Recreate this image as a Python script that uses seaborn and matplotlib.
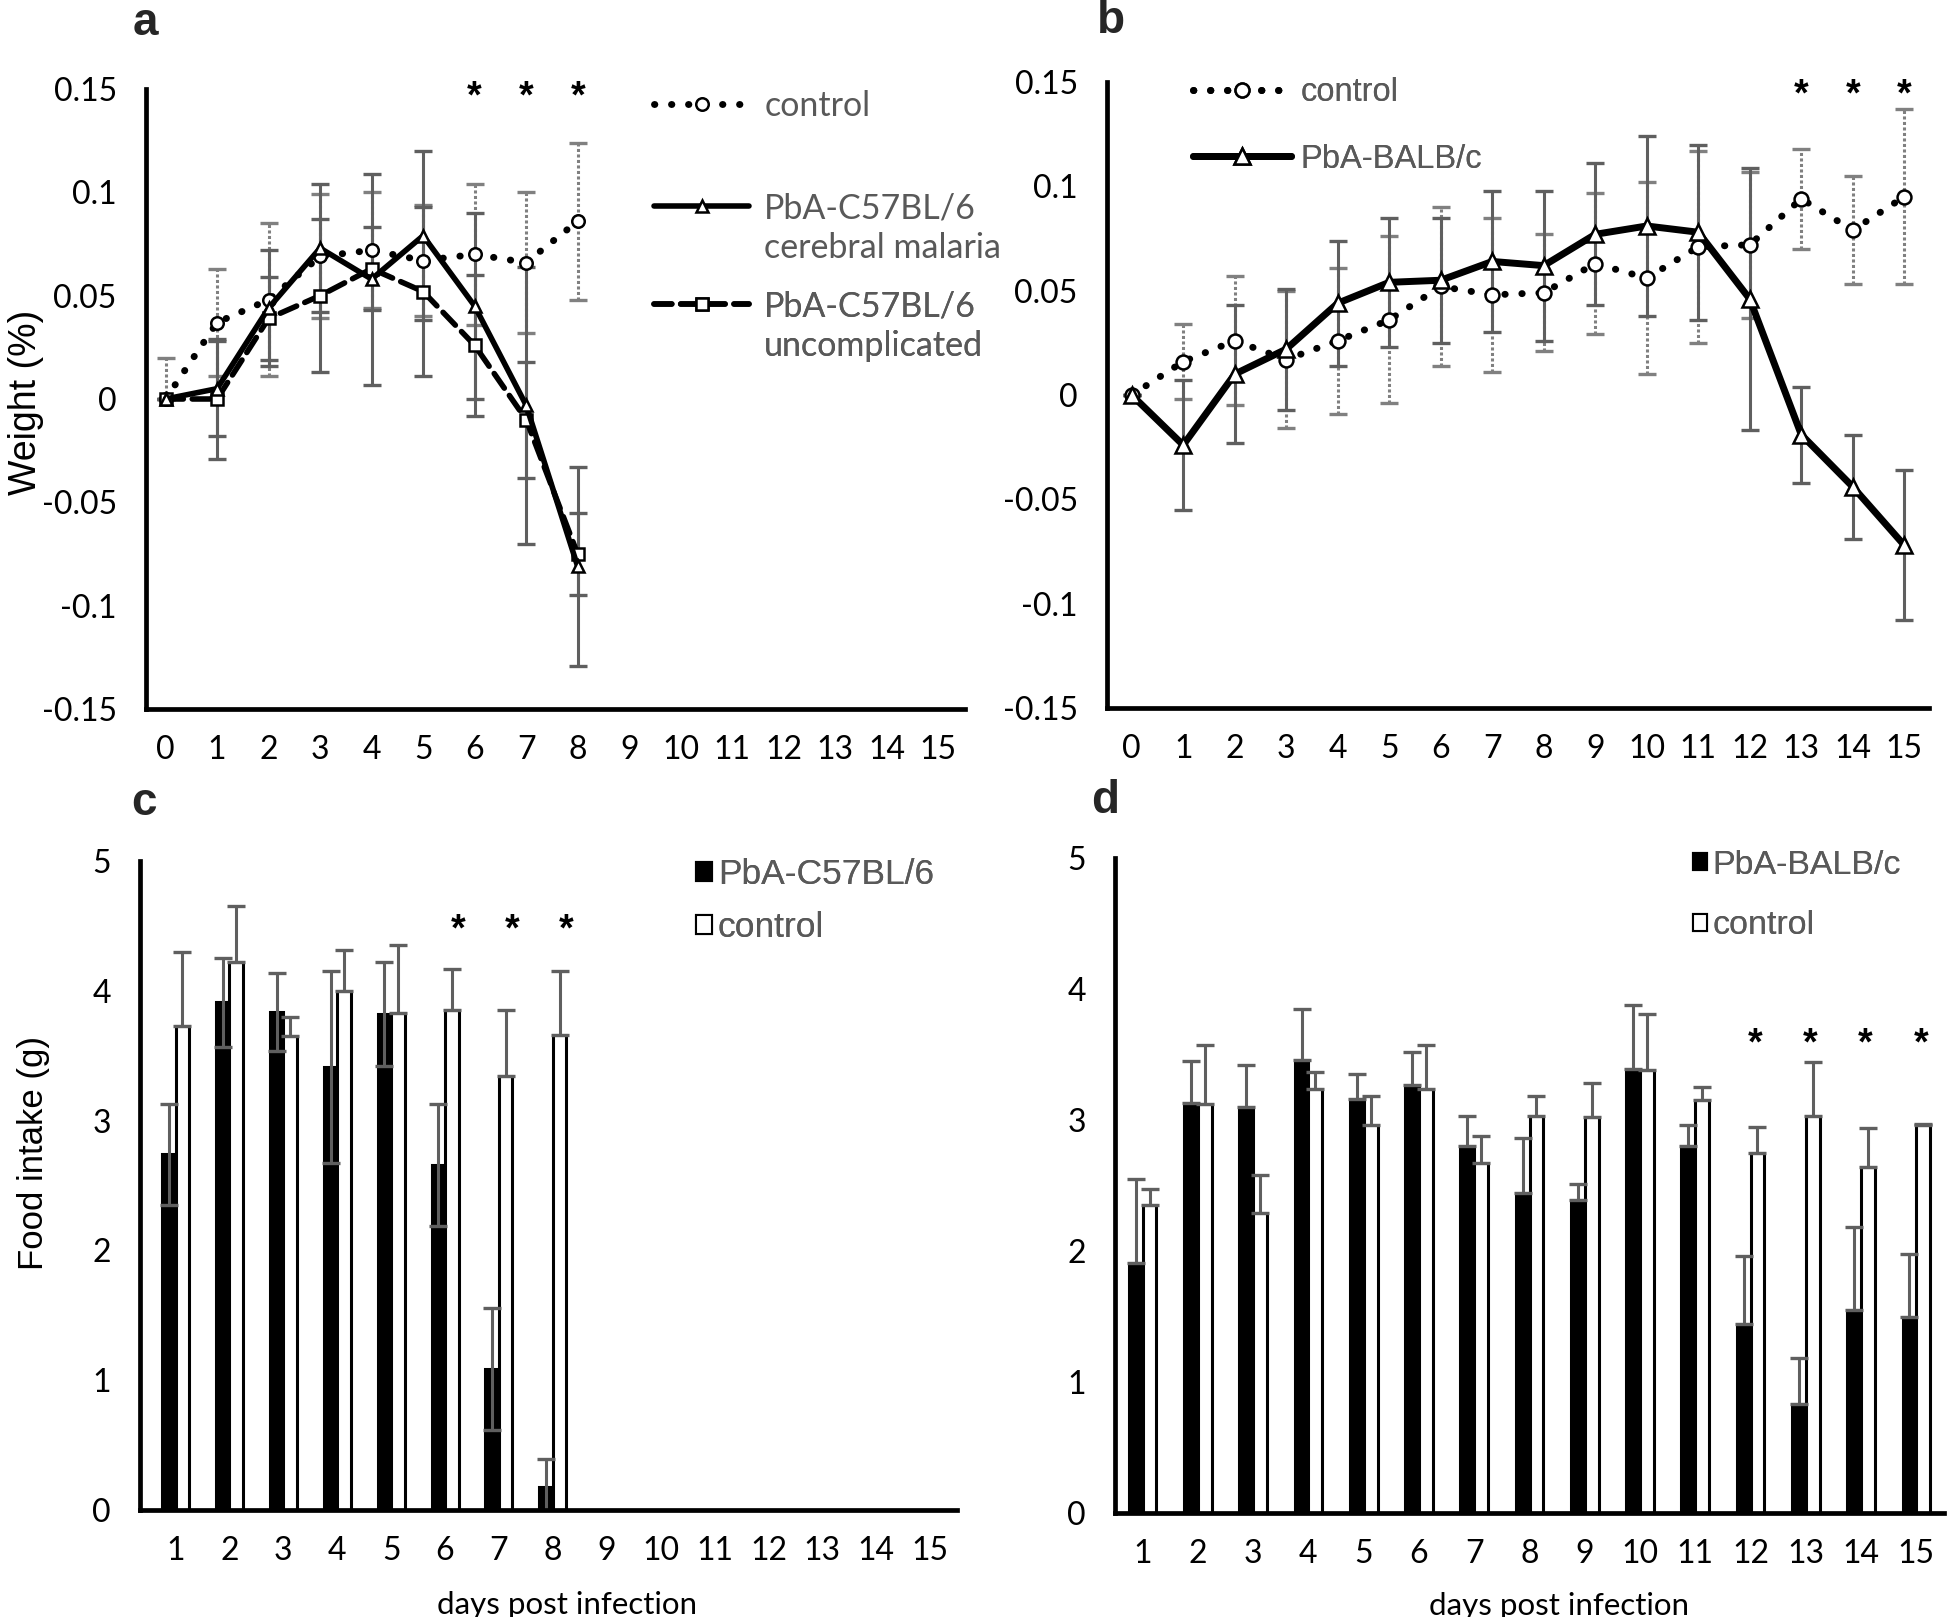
import numpy as np
import pandas as pd
import matplotlib
matplotlib.use("Agg")
import matplotlib.pyplot as plt
import seaborn as sns
from matplotlib.lines import Line2D
from matplotlib.patches import Patch

# ---- data: panel a (weight, C57BL/6) ----
days_a = list(range(0, 9))
ctrl_a = [0, 0.037, 0.048, 0.069, 0.072, 0.067, 0.070, 0.066, 0.086]
ctrl_a_err = [0.02, 0.026, 0.037, 0.030, 0.028, 0.027, 0.034, 0.034, 0.038]
cm_a = [0, 0.005, 0.044, 0.073, 0.058, 0.079, 0.045, -0.003, -0.081]
cm_a_err = [0, 0.023, 0.028, 0.031, 0.051, 0.041, 0.045, 0.067, 0.048]
unc_a = [0, 0.0, 0.039, 0.050, 0.063, 0.052, 0.026, -0.010, -0.075]
unc_a_err = [0, 0.029, 0.020, 0.037, 0.020, 0.041, 0.034, 0.028, 0.020]

# ---- data: panel b (weight, BALB/c) ----
days_b = list(range(0, 16))
ctrl_b = [0, 0.016, 0.026, 0.017, 0.026, 0.036, 0.052, 0.048, 0.049,
          0.063, 0.056, 0.071, 0.072, 0.094, 0.079, 0.095]
ctrl_b_err = [0, 0.018, 0.031, 0.033, 0.035, 0.040, 0.038, 0.037, 0.028,
              0.034, 0.046, 0.046, 0.035, 0.024, 0.026, 0.042]
balb_b = [0, -0.024, 0.010, 0.022, 0.044, 0.054, 0.055, 0.064, 0.062,
          0.077, 0.081, 0.078, 0.046, -0.019, -0.044, -0.072]
balb_b_err = [0, 0.031, 0.033, 0.029, 0.030, 0.031, 0.030, 0.034, 0.036,
              0.034, 0.043, 0.042, 0.063, 0.023, 0.025, 0.036]

# ---- data: panel c (food intake, C57BL/6) ----
all_days = list(range(1, 16))
days_c = list(range(1, 9))
pba_c = [2.74, 3.91, 3.84, 3.41, 3.82, 2.66, 1.09, 0.18]
pba_c_err = [0.39, 0.34, 0.30, 0.74, 0.40, 0.47, 0.47, 0.21]
ctrl_c = [3.73, 4.22, 3.65, 4.00, 3.83, 3.85, 3.34, 3.66]
ctrl_c_err = [0.57, 0.43, 0.145, 0.315, 0.52, 0.32, 0.51, 0.49]

# ---- data: panel d (food intake, BALB/c) ----
days_d = list(range(1, 16))
pba_d = [1.91, 3.13, 3.10, 3.46, 3.16, 3.27, 2.80, 2.44, 2.39, 3.39, 2.80, 1.44, 0.83, 1.55, 1.50]
pba_d_err = [0.64, 0.32, 0.32, 0.39, 0.19, 0.25, 0.23, 0.42, 0.12, 0.49, 0.16, 0.52, 0.35, 0.63, 0.48]
ctrl_d = [2.35, 3.12, 2.29, 3.24, 2.96, 3.24, 2.67, 3.03, 3.02, 3.38, 3.15, 2.75, 3.03, 2.64, 2.96]
ctrl_d_err = [0.12, 0.45, 0.29, 0.13, 0.22, 0.33, 0.21, 0.15, 0.26, 0.43, 0.10, 0.20, 0.41, 0.30, 0.01]

star_days_a = [6, 7, 8]
star_days_b = [13, 14, 15]
star_days_c = [6, 7, 8]
star_days_d = [12, 13, 14, 15]

# ---- style ----
sns.set_style("white")
plt.rcParams['font.family'] = ['Lato', 'DejaVu Sans']
ARIAL = ['Liberation Sans', 'DejaVu Sans']
GREY = '#5f5f5f'
TXT = '#595959'
DOT = (0, (0.05, 2.4))
DASH = (0, (3.2, 1.6))

W, H = 1947, 1617
fig = plt.figure(figsize=(W / 100, H / 100), dpi=100)


def box(x0, x1, ytop, ybot):
    return [x0 / W, 1 - ybot / H, (x1 - x0) / W, (ybot - ytop) / H]


ax_a = fig.add_axes(box(146, 965, 89, 709))
ax_b = fig.add_axes(box(1107, 1929, 82, 708))
ax_c = fig.add_axes(box(140, 957, 861, 1510))
ax_d = fig.add_axes(box(1115, 1944, 858, 1513))


def style_axis(ax):
    sns.despine(ax=ax)
    for s in ['left', 'bottom']:
        ax.spines[s].set_linewidth(3.4)
        ax.spines[s].set_color('black')
    ax.tick_params(axis='both', direction='out', length=6, width=3, color='black',
                   labelsize=23, labelcolor='black')
    ax.tick_params(axis='x', pad=13)
    ax.tick_params(axis='y', pad=15)


def err_bars(ax, x, y, err, dotted=False, lower=None):
    low = err if lower is None else lower
    eb = ax.errorbar(x, y, yerr=[low, err], fmt='none', ecolor=GREY if not dotted else '#808080',
                     elinewidth=2.2, capsize=6.5, capthick=2.4, zorder=2)
    if dotted:
        eb[2][0].set_linestyle((0, (1, 0.8)))
    return eb


def weight_line(ax, x, y, ls, marker, ms, lw=4.0):
    sns.lineplot(x=x, y=y, ax=ax, color='black', linestyle=ls, linewidth=lw,
                 marker=marker, markersize=ms, markerfacecolor='white',
                 markeredgecolor='black', markeredgewidth=1.8,
                 dash_capstyle='round', zorder=4)


def stars(ax, xs, y):
    for x in xs:
        ax.text(x, y, '*', ha='center', va='center', fontsize=27, fontweight='bold',
                family=ARIAL, color='black')


# ---- panel a ----
ctrl_a_low = list(ctrl_a_err)
ctrl_a_low[0] = 0
err_bars(ax_a, days_a, ctrl_a, ctrl_a_err, dotted=True, lower=ctrl_a_low)
err_bars(ax_a, days_a, cm_a, cm_a_err)
err_bars(ax_a, days_a, unc_a, unc_a_err)
weight_line(ax_a, days_a, ctrl_a, DOT, 'o', 9, lw=5)
weight_line(ax_a, days_a, unc_a, DASH, 's', 9)
weight_line(ax_a, days_a, cm_a, '-', '^', 9)

# ---- panel b ----
err_bars(ax_b, days_b, ctrl_b, ctrl_b_err, dotted=True)
err_bars(ax_b, days_b, balb_b, balb_b_err)
weight_line(ax_b, days_b, ctrl_b, DOT, 'o', 10, lw=5)
weight_line(ax_b, days_b, balb_b, '-', '^', 11, lw=5)

yt = [-0.15, -0.1, -0.05, 0, 0.05, 0.1, 0.15]
ytl = ['-0.15', '-0.1', '-0.05', '0', '0.05', '0.1', '0.15']
for ax, xl in [(ax_a, (-0.38, 15.52)), (ax_b, (-0.48, 15.48))]:
    ax.set_ylim(-0.15, 0.15)
    ax.set_yticks(yt)
    ax.set_yticklabels(ytl)
    ax.set_xticks(range(0, 16))
    ax.set_xlim(*xl)
    ax.set_xlabel('')
    ax.set_ylabel('')
    style_axis(ax)

stars(ax_a, star_days_a, 0.146)
stars(ax_b, star_days_b, 0.1436)

ax_a.set_ylabel('Weight (%)', family=ARIAL, fontsize=27, color='black')
ax_a.yaxis.set_label_coords(-0.125, 0.495)

# ---- panels c, d (bars) ----
def bar_panel(ax, days, pba, pba_err, ctrl, ctrl_err, both_dir):
    df = pd.DataFrame({
        'day': days * 2,
        'group': ['PbA'] * len(days) + ['control'] * len(days),
        'value': pba + ctrl,
    })
    sns.barplot(data=df, x='day', y='value', hue='group', order=all_days,
                hue_order=['PbA', 'control'], palette={'PbA': 'black', 'control': 'white'},
                edgecolor='black', linewidth=2.2, width=0.5, saturation=1,
                errorbar=None, legend=False, ax=ax)
    pos = np.array([all_days.index(d) for d in days], dtype=float)
    low = pba_err if both_dir else [0] * len(pba_err)
    err_bars(ax, pos - 0.125, pba, pba_err, lower=low)
    err_bars(ax, pos + 0.125, ctrl, ctrl_err, lower=[0] * len(ctrl_err))
    ax.set_ylim(0, 5)
    ax.set_yticks(range(0, 6))
    ax.set_xlabel('days post infection', fontsize=22.5, color='black')
    ax.set_ylabel('')
    style_axis(ax)


bar_panel(ax_c, days_c, pba_c, pba_c_err, ctrl_c, ctrl_c_err, True)
bar_panel(ax_d, days_d, pba_d, pba_d_err, ctrl_d, ctrl_d_err, False)
ax_c.set_xlim(-0.66, 14.5)
ax_d.set_xlim(-0.5, 14.5)
ax_c.xaxis.set_label_coords(0.523, -0.125)
ax_d.xaxis.set_label_coords(0.536, -0.12)
ax_c.set_ylabel('Food intake (g)', family=ARIAL, fontsize=25, color='black')
ax_c.yaxis.set_label_coords(-0.11, 0.55)

stars(ax_c, [all_days.index(d) + 0.25 for d in star_days_c], 4.465)
stars(ax_d, [all_days.index(d) + 0.08 for d in star_days_d], 3.576)

# ---- legends ----
def fig_legend(ax, handles, labels, x, ytop, size, family, spacing, hlen, hh=0.7, pad=0.45):
    leg = ax.legend(handles, labels, loc='upper left', bbox_to_anchor=(x / W, 1 - ytop / H),
                    bbox_transform=fig.transFigure, frameon=False, borderpad=0, borderaxespad=0,
                    handlelength=hlen, handleheight=hh, handletextpad=pad, labelspacing=spacing,
                    prop={'family': family, 'size': size})
    for t in leg.get_texts():
        t.set_color(TXT)
    ax.add_artist(leg)
    return leg


def line_handle(ls, marker, ms, lw=4.0):
    return Line2D([], [], color='black', linestyle=ls, linewidth=lw, marker=marker, markersize=ms,
                  markerfacecolor='white', markeredgecolor='black', markeredgewidth=1.8,
                  dash_capstyle='round')


blank = Line2D([], [], color='none')
fig_legend(ax_a, [line_handle(DOT, 'o', 9, lw=5)], ['control'], 654, 90, 24.5, ['Lato'], 0.24, 2.8, pad=0.44)
fig_legend(ax_a, [line_handle('-', '^', 9), blank], ['PbA-C57BL/6', 'cerebral malaria'],
           654, 192, 24.5, ['Lato'], 0.24, 2.8, pad=0.44)
fig_legend(ax_a, [line_handle(DASH, 's', 9), blank], ['PbA-C57BL/6', 'uncomplicated'],
           654, 290, 24.5, ['Lato'], 0.24, 2.8, pad=0.44)

fig_legend(ax_b, [line_handle(DOT, 'o', 10, lw=5), line_handle('-', '^', 11, lw=5)],
           ['control', 'PbA-BALB/c'], 1193, 77, 23.5, ARIAL, 1.1, 3.0, pad=0.3)

sq_b = Patch(facecolor='black', edgecolor='black', linewidth=1.5)
sq_w = Patch(facecolor='white', edgecolor='black', linewidth=1.5)
fig_legend(ax_c, [sq_b, sq_w], ['PbA-C57BL/6', 'control'], 696, 858, 25.5, ARIAL, 0.57, 0.45,
           hh=0.45, pad=0.17)
fig_legend(ax_d, [sq_b, sq_w], ['PbA-BALB/c', 'control'], 1693, 850, 24.5, ARIAL, 0.86, 0.4,
           hh=0.4, pad=0.18)

# ---- panel letters ----
for lab, x, y in [('a', 133, 35), ('b', 1097, 33), ('c', 131, 815), ('d', 1091, 813)]:
    fig.text(x / W, 1 - y / H, lab, fontsize=33, fontweight='bold', family=ARIAL,
             ha='left', va='baseline')

fig.savefig('out.png', dpi=100)
